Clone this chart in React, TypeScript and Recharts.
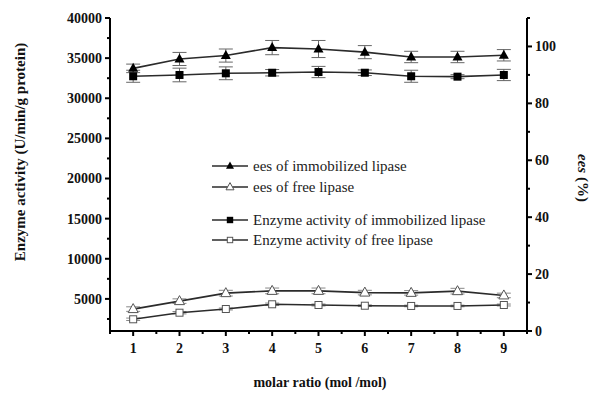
import { LineChart, Line, XAxis, YAxis, ErrorBar } from "recharts";

const molarRatio = [1, 2, 3, 4, 5, 6, 7, 8, 9];

const eesImmobilized = [92.3, 95.6, 96.8, 99.6, 99.1, 98.0, 96.3, 96.3, 96.9];
const eesImmobilizedErr = [1.5, 2.3, 2.3, 2.5, 3, 2.3, 2, 2, 2];
const eesFree = [7.7, 10.5, 13.3, 14.1, 14.1, 13.5, 13.4, 14.0, 12.5];
const eesFreeErr = [0.8, 0.8, 1, 1, 1, 0.8, 0.8, 1, 0.8];

const activityImmobilized = [32740, 32900, 33110, 33180, 33270, 33180, 32740, 32690, 32900];
const activityImmobilizedErr = [750, 850, 800, 400, 700, 350, 750, 250, 700];
const activityFree = [2460, 3280, 3740, 4330, 4240, 4150, 4120, 4120, 4240];
const activityFreeErr = [150, 150, 120, 150, 120, 100, 100, 100, 120];

const xTicks = [0.5, 1, 1.5, 2, 2.5, 3, 3.5, 4, 4.5, 5, 5.5, 6, 6.5, 7, 7.5, 8, 8.5, 9, 9.5];
const xLabels = [1, 2, 3, 4, 5, 6, 7, 8, 9];
const leftTicks = [2500, 5000, 7500, 10000, 12500, 15000, 17500, 20000, 22500, 25000, 27500, 30000, 32500, 35000, 37500, 40000];
const leftLabels = [5000, 10000, 15000, 20000, 25000, 30000, 35000, 40000];
const rightTicks = [0, 10, 20, 30, 40, 50, 60, 70, 80, 90, 100, 110];
const rightLabels = [0, 20, 40, 60, 80, 100];

const legendItems = [
  { label: "ees of immobilized lipase", kind: "triFilled" },
  { label: "ees of free lipase", kind: "triOpen" },
  { label: "Enzyme activity of immobilized lipase", kind: "sqFilled" },
  { label: "Enzyme activity of free lipase", kind: "sqOpen" },
];

const data = molarRatio.map((x, i) => ({
  x,
  eesImm: eesImmobilized[i],
  eesImmErr: eesImmobilizedErr[i],
  eesFree: eesFree[i],
  eesFreeErr: eesFreeErr[i],
  actImm: activityImmobilized[i],
  actImmErr: activityImmobilizedErr[i],
  actFree: activityFree[i],
  actFreeErr: activityFreeErr[i],
}));

const serif = "'Liberation Serif', 'Times New Roman', serif";
const lineColor = "#2b2b2b";

function Marker({ cx, cy, kind, s = 1 }: { cx: number; cy: number; kind: string; s?: number }) {
  if (cx == null || cy == null) return null;
  if (kind === "triFilled" || kind === "triOpen") {
    const pts = `${cx},${cy - 5.5 * s} ${cx - 5 * s},${cy + 3.5 * s} ${cx + 5 * s},${cy + 3.5 * s}`;
    return kind === "triFilled" ? (
      <polygon points={pts} fill="#000" />
    ) : (
      <polygon points={pts} fill="#fff" stroke="#555" strokeWidth={1} />
    );
  }
  const h = 4 * s;
  return kind === "sqFilled" ? (
    <rect x={cx - h} y={cy - h} width={2 * h} height={2 * h} fill="#000" />
  ) : (
    <rect x={cx - h + 0.5} y={cy - h + 0.5} width={2 * h - 1} height={2 * h - 1} fill="#fff" stroke="#555" strokeWidth={1} />
  );
}

function dotFor(kind: string) {
  return (p: any) => <Marker key={`${kind}-${p.index}`} cx={p.cx} cy={p.cy} kind={kind} />;
}

function LeftTick({ x, y, payload }: any) {
  const major = leftLabels.includes(payload.value);
  return (
    <g>
      <line x1={x - (major ? 5 : 3)} x2={x} y1={y} y2={y} stroke="#000" strokeWidth={2} />
      {major && (
        <text x={x - 8} y={y} dy="0.35em" textAnchor="end" fontFamily={serif} fontWeight="bold" fontSize={14} fill="#111">
          {payload.value}
        </text>
      )}
    </g>
  );
}

function RightTick({ x, y, payload }: any) {
  const major = rightLabels.includes(payload.value);
  return (
    <g>
      <line x1={x} x2={x + (major ? 5 : 3)} y1={y} y2={y} stroke="#000" strokeWidth={2} />
      {major && (
        <text x={x + 8} y={y} dy="0.35em" textAnchor="start" fontFamily={serif} fontWeight="bold" fontSize={14} fill="#111">
          {payload.value}
        </text>
      )}
    </g>
  );
}

function BottomTick({ x, y, payload }: any) {
  const major = xLabels.includes(payload.value);
  return (
    <g>
      <line x1={x} x2={x} y1={y} y2={y + (major ? 5 : 3)} stroke="#000" strokeWidth={2} />
      {major && (
        <text x={x} y={y + 22} textAnchor="middle" fontFamily={serif} fontWeight="bold" fontSize={14} fill="#111">
          {payload.value}
        </text>
      )}
    </g>
  );
}

export default function App() {
  return (
    <div style={{ position: "absolute", left: 0, top: 0, width: 600, height: 400, background: "#fff" }}>
      <LineChart width={600} height={400} data={data} margin={{ top: 18, right: 0, bottom: 0, left: 0 }}>
        <XAxis
          dataKey="x"
          type="number"
          domain={[0.5, 9.5]}
          ticks={xTicks}
          interval={0}
          height={69}
          tickSize={0}
          tickMargin={0}
          tickLine={false}
          axisLine={{ stroke: "#000", strokeWidth: 2 }}
          tick={<BottomTick />}
        />
        <YAxis
          yAxisId="left"
          orientation="left"
          domain={[1000, 40000]}
          ticks={leftTicks}
          interval={0}
          width={110}
          tickSize={0}
          tickMargin={0}
          tickLine={false}
          axisLine={{ stroke: "#000", strokeWidth: 2 }}
          tick={<LeftTick />}
          allowDataOverflow
        />
        <YAxis
          yAxisId="right"
          orientation="right"
          domain={[0, 110]}
          ticks={rightTicks}
          interval={0}
          width={73}
          tickSize={0}
          tickMargin={0}
          tickLine={false}
          axisLine={{ stroke: "#000", strokeWidth: 2 }}
          tick={<RightTick />}
          allowDataOverflow
        />
        <Line yAxisId="right" dataKey="eesImm" stroke={lineColor} strokeWidth={1.6} dot={dotFor("triFilled")} activeDot={false} isAnimationActive={false}>
          <ErrorBar dataKey="eesImmErr" width={7} stroke="#666" strokeWidth={1} direction="y" />
        </Line>
        <Line yAxisId="right" dataKey="eesFree" stroke={lineColor} strokeWidth={1.6} dot={dotFor("triOpen")} activeDot={false} isAnimationActive={false}>
          <ErrorBar dataKey="eesFreeErr" width={7} stroke="#888" strokeWidth={1} direction="y" />
        </Line>
        <Line yAxisId="left" dataKey="actImm" stroke={lineColor} strokeWidth={1.6} dot={dotFor("sqFilled")} activeDot={false} isAnimationActive={false}>
          <ErrorBar dataKey="actImmErr" width={7} stroke="#666" strokeWidth={1} direction="y" />
        </Line>
        <Line yAxisId="left" dataKey="actFree" stroke={lineColor} strokeWidth={1.6} dot={dotFor("sqOpen")} activeDot={false} isAnimationActive={false}>
          <ErrorBar dataKey="actFreeErr" width={7} stroke="#888" strokeWidth={1} direction="y" />
        </Line>
      </LineChart>
      <svg width={600} height={400} style={{ position: "absolute", left: 0, top: 0, pointerEvents: "none" }}>
        {legendItems.map((item, i) => {
          const y = [166, 187, 220, 240][i];
          return (
            <g key={item.label}>
              <line x1={212} x2={248} y1={y} y2={y} stroke={lineColor} strokeWidth={1.6} />
              <Marker cx={230} cy={y} kind={item.kind} s={0.8} />
              <text x={253} y={y} dy="0.35em" fontFamily={serif} fontSize={15} fill="#222">
                {item.label}
              </text>
            </g>
          );
        })}
        <text x={320} y={387} textAnchor="middle" fontFamily={serif} fontWeight="bold" fontSize={14} fill="#111">
          molar ratio (mol /mol)
        </text>
        <text
          transform="translate(25,152) rotate(-90)"
          textAnchor="middle"
          fontFamily={serif}
          fontWeight="bold"
          fontSize={15}
          fill="#111"
        >
          Enzyme activity (U/min/g protein)
        </text>
        <text
          transform="translate(578,178) rotate(90)"
          textAnchor="middle"
          fontFamily={serif}
          fontWeight="bold"
          fontSize={15}
          fill="#111"
        >
          <tspan fontStyle="italic">ees</tspan> (%)
        </text>
      </svg>
    </div>
  );
}
